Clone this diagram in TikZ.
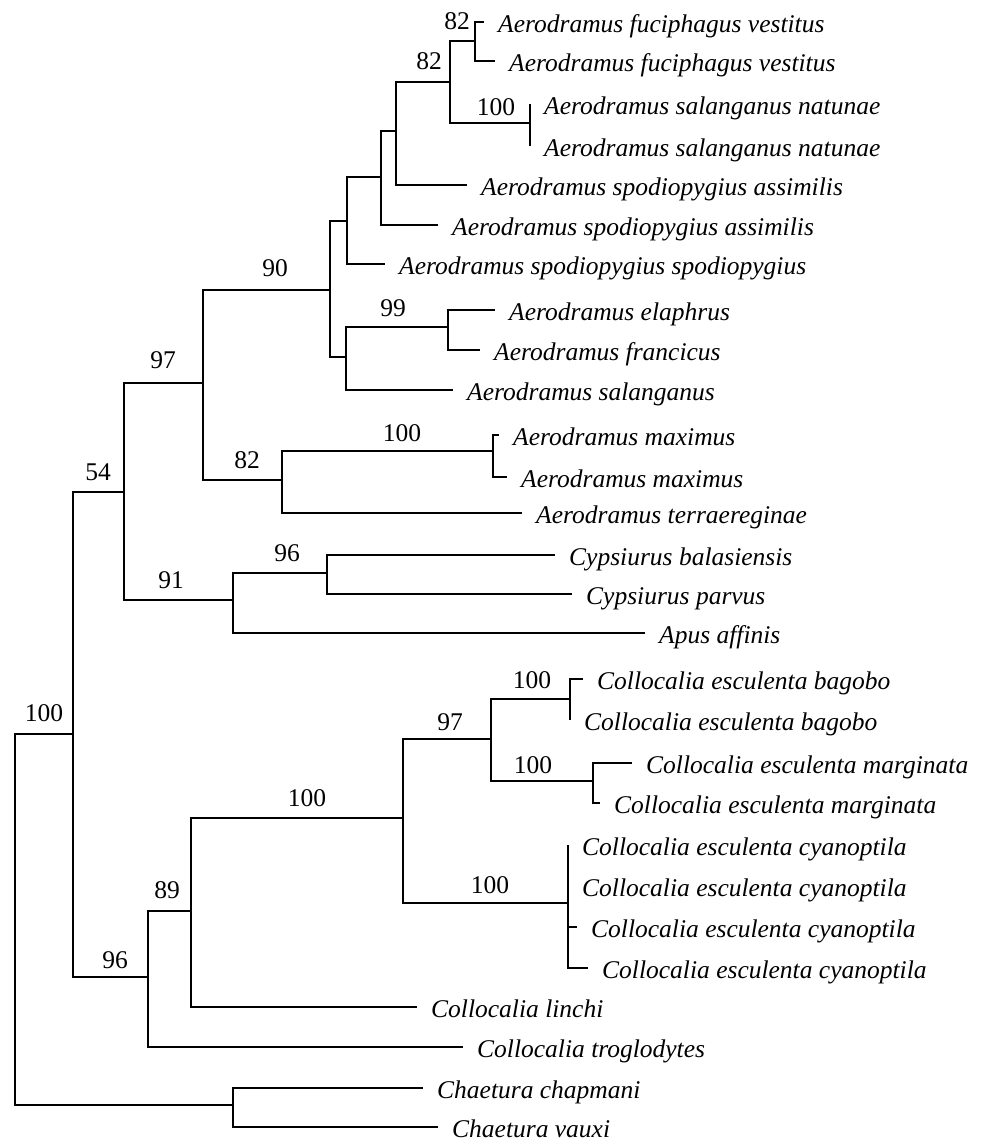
\documentclass[tikz,border=0pt]{standalone}
\usepackage{fontspec}
\setmainfont{Liberation Serif}
\begin{document}
\begin{tikzpicture}[x=1pt,y=-1pt,
  br/.style={line width=2.4pt},
  leaflab/.style={anchor=base west, xshift=14pt, yshift=-10pt, inner sep=0pt,
    font=\fontsize{25.5}{30}\selectfont\itshape},
  boot/.style={inner sep=0pt, font=\fontsize{25.5}{30}\selectfont}]
\useasboundingbox (0,0) rectangle (987,1144);
% internal nodes
\coordinate (R) at (15,919);
\coordinate (A) at (73,734);
\coordinate (N54) at (124,492);
\coordinate (N97) at (203,383);
\coordinate (N90) at (330,290);
\coordinate (Nf) at (347,221);
\coordinate (Ne) at (381,177);
\coordinate (Nd) at (396,131);
\coordinate (Nc) at (450,82);
\coordinate (Na) at (475,41);
\coordinate (Nb) at (530,123);
\coordinate (Nh) at (346,357);
\coordinate (Ng) at (448,327);
\coordinate (N82b) at (282,480);
\coordinate (Nmax) at (493,451);
\coordinate (N91) at (233,600);
\coordinate (N96) at (327,573);
\coordinate (N96b) at (148,977);
\coordinate (N89) at (191,911);
\coordinate (N100c) at (403,818);
\coordinate (N97c) at (491,739);
\coordinate (Nbag) at (570,699);
\coordinate (Nmarg) at (593,781);
\coordinate (Ncyan) at (568,903);
\coordinate (Nchae) at (233,1105);
% leaves
\coordinate (l1) at (484,22);
\coordinate (l2) at (495,61);
\coordinate (l3) at (530,104);
\coordinate (l4) at (530,146);
\coordinate (l5) at (467,185);
\coordinate (l6) at (438,225);
\coordinate (l7) at (385,264);
\coordinate (l8) at (495,310);
\coordinate (l9) at (480,350);
\coordinate (l10) at (453,390);
\coordinate (l11) at (499,435);
\coordinate (l12) at (507,477);
\coordinate (l13) at (522,513);
\coordinate (l14) at (555,555);
\coordinate (l15) at (572,594);
\coordinate (l16) at (645,633);
\coordinate (l17) at (583,679);
\coordinate (l18) at (570,720);
\coordinate (l19) at (632,763);
\coordinate (l20) at (600,803);
\coordinate (l21) at (568,845);
\coordinate (l22) at (568,886);
\coordinate (l23) at (577,927);
\coordinate (l24) at (588,968);
\coordinate (l25) at (417,1007);
\coordinate (l26) at (463,1047);
\coordinate (l27) at (423,1088);
\coordinate (l28) at (438,1127);
% branches
\foreach \p/\c in {R/A, R/Nchae, A/N54, A/N96b, N54/N97, N54/N91, N97/N90, N97/N82b,
  N90/Nf, N90/Nh, Nf/Ne, Nf/l7, Ne/Nd, Ne/l6, Nd/Nc, Nd/l5, Nc/Na, Nc/Nb,
  Na/l1, Na/l2, Nb/l3, Nb/l4, Nh/Ng, Nh/l10, Ng/l8, Ng/l9, N82b/Nmax, N82b/l13,
  Nmax/l11, Nmax/l12, N91/N96, N91/l16, N96/l14, N96/l15, N96b/N89, N96b/l26,
  N89/N100c, N89/l25, N100c/N97c, N100c/Ncyan, N97c/Nbag, N97c/Nmarg,
  Nbag/l17, Nbag/l18, Nmarg/l19, Nmarg/l20, Ncyan/l21, Ncyan/l22, Ncyan/l23, Ncyan/l24,
  Nchae/l27, Nchae/l28}
  \draw[br] (\p) |- (\c);
% leaf labels
\node[leaflab] (t1) at (l1) {Aerodramus fuciphagus vestitus};
\node[leaflab] (t2) at (l2) {Aerodramus fuciphagus vestitus};
\node[leaflab] (t3) at (l3) {Aerodramus salanganus natunae};
\node[leaflab] (t4) at (l4) {Aerodramus salanganus natunae};
\node[leaflab] (t5) at (l5) {Aerodramus spodiopygius assimilis};
\node[leaflab] (t6) at (l6) {Aerodramus spodiopygius assimilis};
\node[leaflab] (t7) at (l7) {Aerodramus spodiopygius spodiopygius};
\node[leaflab] (t8) at (l8) {Aerodramus elaphrus};
\node[leaflab] (t9) at (l9) {Aerodramus francicus};
\node[leaflab] (t10) at (l10) {Aerodramus salanganus};
\node[leaflab] (t11) at (l11) {Aerodramus maximus};
\node[leaflab] (t12) at (l12) {Aerodramus maximus};
\node[leaflab] (t13) at (l13) {Aerodramus terraereginae};
\node[leaflab] (t14) at (l14) {Cypsiurus balasiensis};
\node[leaflab] (t15) at (l15) {Cypsiurus parvus};
\node[leaflab] (t16) at (l16) {Apus affinis};
\node[leaflab] (t17) at (l17) {Collocalia esculenta bagobo};
\node[leaflab] (t18) at (l18) {Collocalia esculenta bagobo};
\node[leaflab] (t19) at (l19) {Collocalia esculenta marginata};
\node[leaflab] (t20) at (l20) {Collocalia esculenta marginata};
\node[leaflab] (t21) at (l21) {Collocalia esculenta cyanoptila};
\node[leaflab] (t22) at (l22) {Collocalia esculenta cyanoptila};
\node[leaflab] (t23) at (l23) {Collocalia esculenta cyanoptila};
\node[leaflab] (t24) at (l24) {Collocalia esculenta cyanoptila};
\node[leaflab] (t25) at (l25) {Collocalia linchi};
\node[leaflab] (t26) at (l26) {Collocalia troglodytes};
\node[leaflab] (t27) at (l27) {Chaetura chapmani};
\node[leaflab] (t28) at (l28) {Chaetura vauxi};
% bootstrap values
\node[boot] (b1) at (457,21) {82};
\node[boot] (b2) at (429,61) {82};
\node[boot] (b3) at (496,107) {100};
\node[boot] (b4) at (275,268) {90};
\node[boot] (b5) at (393,308) {99};
\node[boot] (b6) at (163,360) {97};
\node[boot] (b7) at (247,460) {82};
\node[boot] (b8) at (402,433) {100};
\node[boot] (b9) at (98,472) {54};
\node[boot] (b10) at (287,553) {96};
\node[boot] (b11) at (171,580) {91};
\node[boot] (b12) at (44,713) {100};
\node[boot] (b13) at (115,960) {96};
\node[boot] (b14) at (167,890) {89};
\node[boot] (b15) at (307,798) {100};
\node[boot] (b16) at (450,722) {97};
\node[boot] (b17) at (532,680) {100};
\node[boot] (b18) at (533,765) {100};
\node[boot] (b19) at (490,885) {100};
\end{tikzpicture}
\end{document}
